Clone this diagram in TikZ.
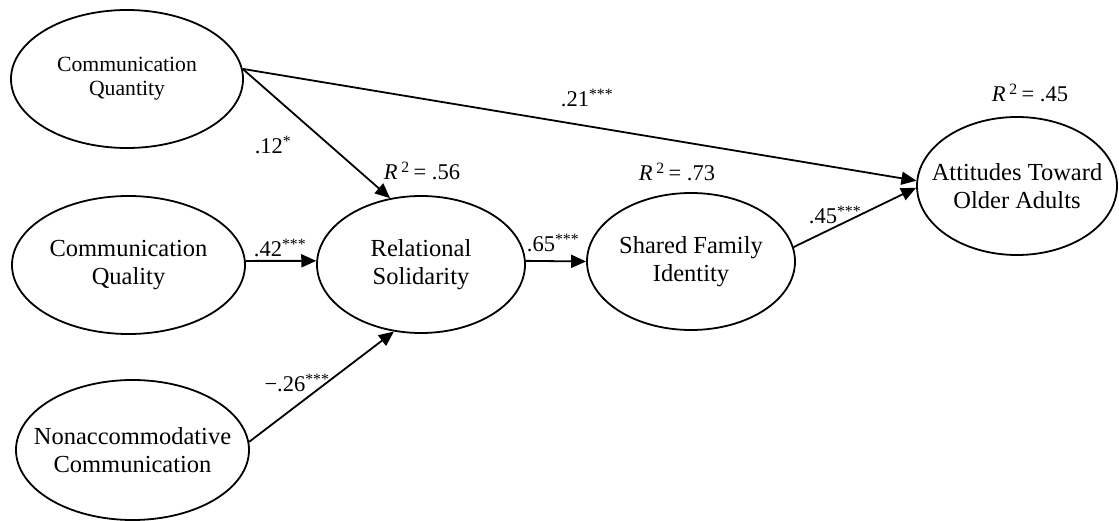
\documentclass[tikz,border=0pt]{standalone}
\usepackage{fontspec}
\setmainfont{Liberation Serif}
\usetikzlibrary{shapes.geometric,arrows.meta}

\begin{document}
\begin{tikzpicture}[x=1pt,y=-1pt,
  latent/.style={draw, ellipse, line width=1.8pt, inner sep=0pt},
  txt/.style={align=center, inner sep=0pt, font=\fontsize{24.5}{28}\selectfont},
  coef/.style={inner sep=0pt, font=\fontsize{22.5}{26}\selectfont},
  arr/.style={line width=1.8pt, -{Triangle[length=15pt,width=13pt]}}]
\useasboundingbox (0,0) rectangle (1119,521);

\node[latent, minimum width=232pt, minimum height=138pt] (cqn) at (127,79) {};
\node[latent, minimum width=233pt, minimum height=138pt] (cql) at (128.5,265) {};
\node[latent, minimum width=233pt, minimum height=140pt] (nac) at (132.5,450) {};

\node[latent, minimum width=208pt, minimum height=137pt] (rs) at (421,264.5) {};
\node[latent, minimum width=208pt, minimum height=137pt] (sfi) at (691,261.5) {};
\node[latent, minimum width=200pt, minimum height=138pt] (ato) at (1017,186) {};

\node[txt, font=\fontsize{21.7}{24}\selectfont] (cqnt) at (cqn) {Communication\\Quantity};
\node[txt] (cqlt) at (cql) {Communication\\Quality};
\node[txt] (nact) at (nac) {Nonaccommodative\\Communication};
\node[txt] (rst) at (rs) {Relational\\Solidarity};
\node[txt] (sfit) at (sfi) {Shared Family\\Identity};
\node[txt] (atot) at (ato) {Attitudes Toward\\Older Adults};

\path[draw,arr] (cqn.5) -- (ato.177);
\path[draw,arr] (cqn.5) -- (rs.115);
\path[draw,arr] (cql.2) -- (rs.178);
\path[draw,arr] (nac.4) -- (rs.248);
\path[draw,arr] (rs.2) -- (sfi.180);
\path[draw,arr] (sfi.8) -- (ato.181);

\node[coef] (b1) at (273,145) {.12\textsuperscript{*}};
\node[coef] (b2) at (280,248) {.42\textsuperscript{***}};
\node[coef] (b3) at (297,383) {−.26\textsuperscript{***}};
\node[coef] (b4) at (553,243) {.65\textsuperscript{***}};
\node[coef] (b5) at (587,98) {.21\textsuperscript{***}};
\node[coef] (b6) at (835,215) {.45\textsuperscript{***}};

\node[coef] (r1) at (422,171) {\textit{R}\,\textsuperscript{2}\,= .56};
\node[coef] (r2) at (677,172) {\textit{R}\,\textsuperscript{2}\,= .73};
\node[coef] (r3) at (1030,93) {\textit{R}\,\textsuperscript{2}\,= .45};
\end{tikzpicture}
\end{document}
